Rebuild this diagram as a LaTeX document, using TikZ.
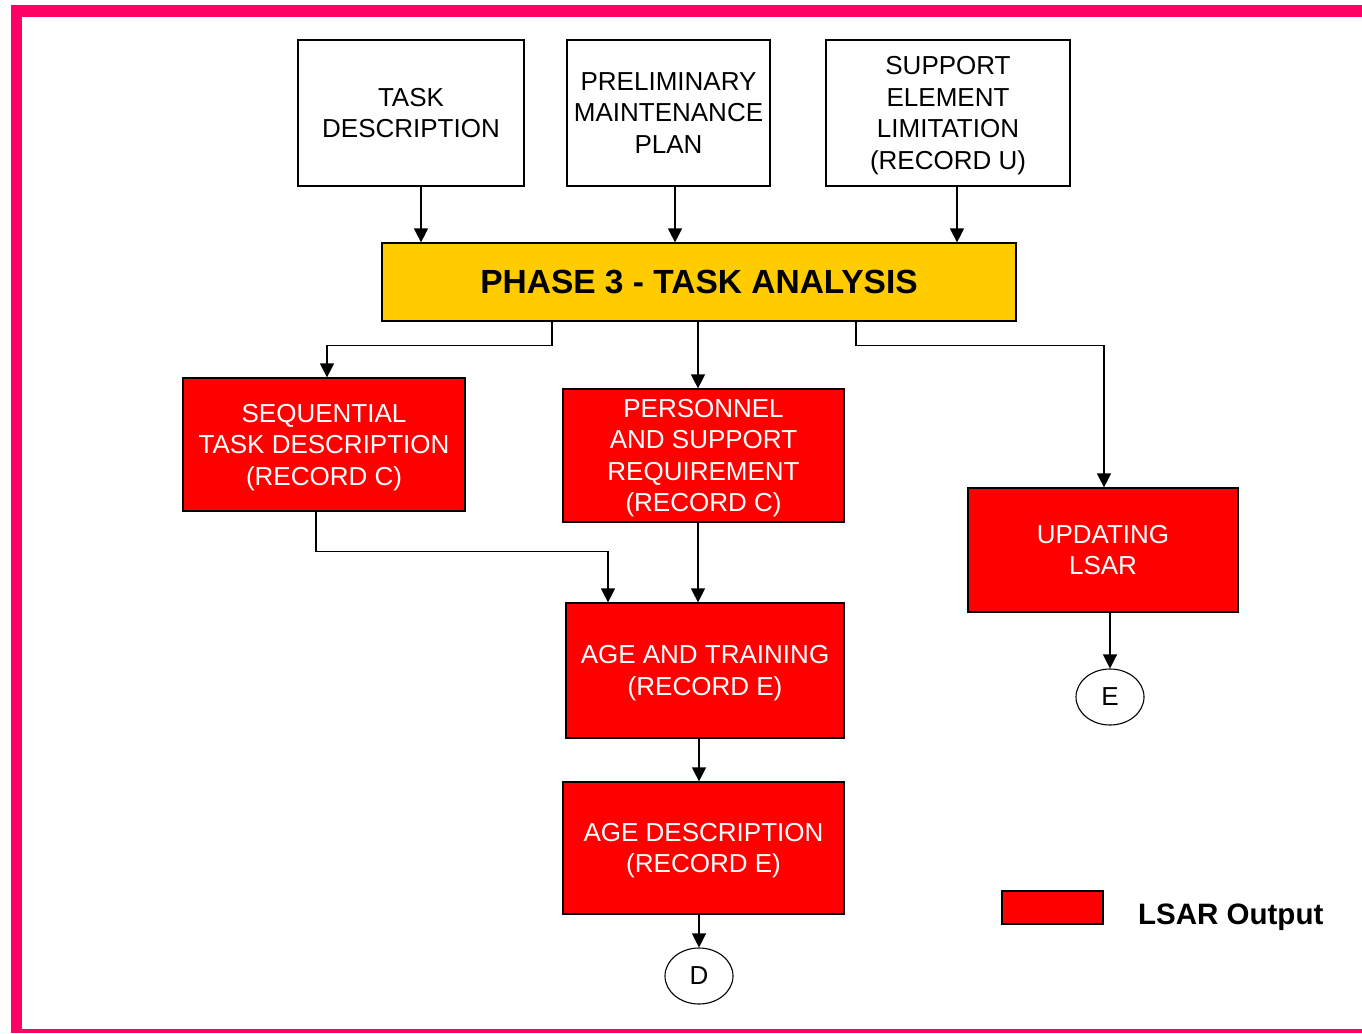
\documentclass[tikz,border=0pt]{standalone}
\usepackage{fontspec}
\setmainfont{Liberation Sans}
\usetikzlibrary{arrows.meta,shapes.geometric}
\definecolor{framepink}{HTML}{FF0066}
\definecolor{phasegold}{HTML}{FFCC00}
\definecolor{outred}{HTML}{FF0000}
\begin{document}
\begin{tikzpicture}[x=1pt,y=-1pt,
  txt/.style={font=\fontsize{26}{31.5}\selectfont, align=center, text depth=0pt},
  whitebox/.style={txt, draw=black, line width=1.2pt, fill=white, inner sep=0pt},
  redbox/.style={txt, draw=black, line width=1.2pt, fill=outred, text=white, inner sep=0pt},
  phasebox/.style={draw=black, line width=1.2pt, fill=phasegold, inner sep=0pt,
    font=\bfseries\fontsize{33.5}{40}\selectfont},
  endpt/.style={txt, ellipse, draw=black, line width=1.1pt, inner sep=0pt,
    minimum width=68pt, minimum height=56pt},
  arr/.style={line width=1.2pt, -{Triangle[length=14pt,width=14pt]}}
]
\useasboundingbox (0,0) rectangle (1362,1033);
% page frame
\fill[white] (0,0) rectangle (1362,1033);
\fill[framepink] (11,5) rectangle (1362,1033);
\fill[white] (22,17) rectangle (1362,1029);

% input boxes
\node[whitebox, minimum width=226pt, minimum height=146pt] (td) at (411,113) {TASK\\DESCRIPTION};
\node[whitebox, minimum width=203pt, minimum height=146pt] (pm) at (668.5,113) {PRELIMINARY\\MAINTENANCE\\PLAN};
\node[whitebox, minimum width=244pt, minimum height=146pt] (se) at (948,113) {SUPPORT\\ELEMENT\\LIMITATION\\(RECORD U)};

% phase box
\node[phasebox, minimum width=634pt, minimum height=78pt] (ph) at (699,282) {PHASE 3 - TASK ANALYSIS};

% outputs
\node[redbox, minimum width=282pt, minimum height=133pt] (sq) at (324,444.5) {SEQUENTIAL\\TASK DESCRIPTION\\(RECORD C)};
\node[redbox, minimum width=281pt, minimum height=133pt] (pe) at (703.5,455.5) {PERSONNEL\\AND SUPPORT\\REQUIREMENT\\(RECORD C)};
\node[redbox, minimum width=270pt, minimum height=124pt] (up) at (1103,550) {UPDATING\\LSAR};
\node[redbox, minimum width=278pt, minimum height=135pt] (at) at (705,670.5) {AGE AND TRAINING\\(RECORD E)};
\node[redbox, minimum width=281pt, minimum height=132pt] (ad) at (703.5,848) {AGE DESCRIPTION\\(RECORD E)};

% off-page connectors
\node[endpt] (e) at (1110,697) {E};
\node[endpt] (d) at (699,976) {D};

% legend
\node[draw=black, line width=1.2pt, fill=outred, inner sep=0pt, minimum width=101pt, minimum height=33pt] (leg) at (1052.5,907.5) {};
\node[anchor=west, inner sep=0pt, font=\bfseries\fontsize{29.5}{35}\selectfont] (legt) at (1138,917) {LSAR Output};

% connectors
\draw[arr] ([xshift=10pt]td.south) -- ([xshift=10pt]td.south |- ph.north);
\draw[arr] ([xshift=6.5pt]pm.south) -- ([xshift=6.5pt]pm.south |- ph.north);
\draw[arr] ([xshift=9pt]se.south) -- ([xshift=9pt]se.south |- ph.north);

\draw[arr] ([xshift=-147pt]ph.south) -- ++(0,24) -| ([xshift=3pt]sq.north);
\draw[arr] ([xshift=-1pt]ph.south) -- ([xshift=-1pt]ph.south |- pe.north);
\draw[arr] ([xshift=157pt]ph.south) -- ++(0,24) -| ([xshift=1pt]up.north);

\draw[arr] ([xshift=-8pt]sq.south) -- ++(0,40) -| ([xshift=-97pt]at.north);
\draw[arr] ([xshift=-5.5pt]pe.south) -- ([xshift=-5.5pt]pe.south |- at.north);
\draw[arr] (d |- at.south) -- (d |- ad.north);
\draw[arr] (d |- ad.south) -- (d.north);
\draw[arr] (e |- up.south) -- (e.north);
\end{tikzpicture}
\end{document}
